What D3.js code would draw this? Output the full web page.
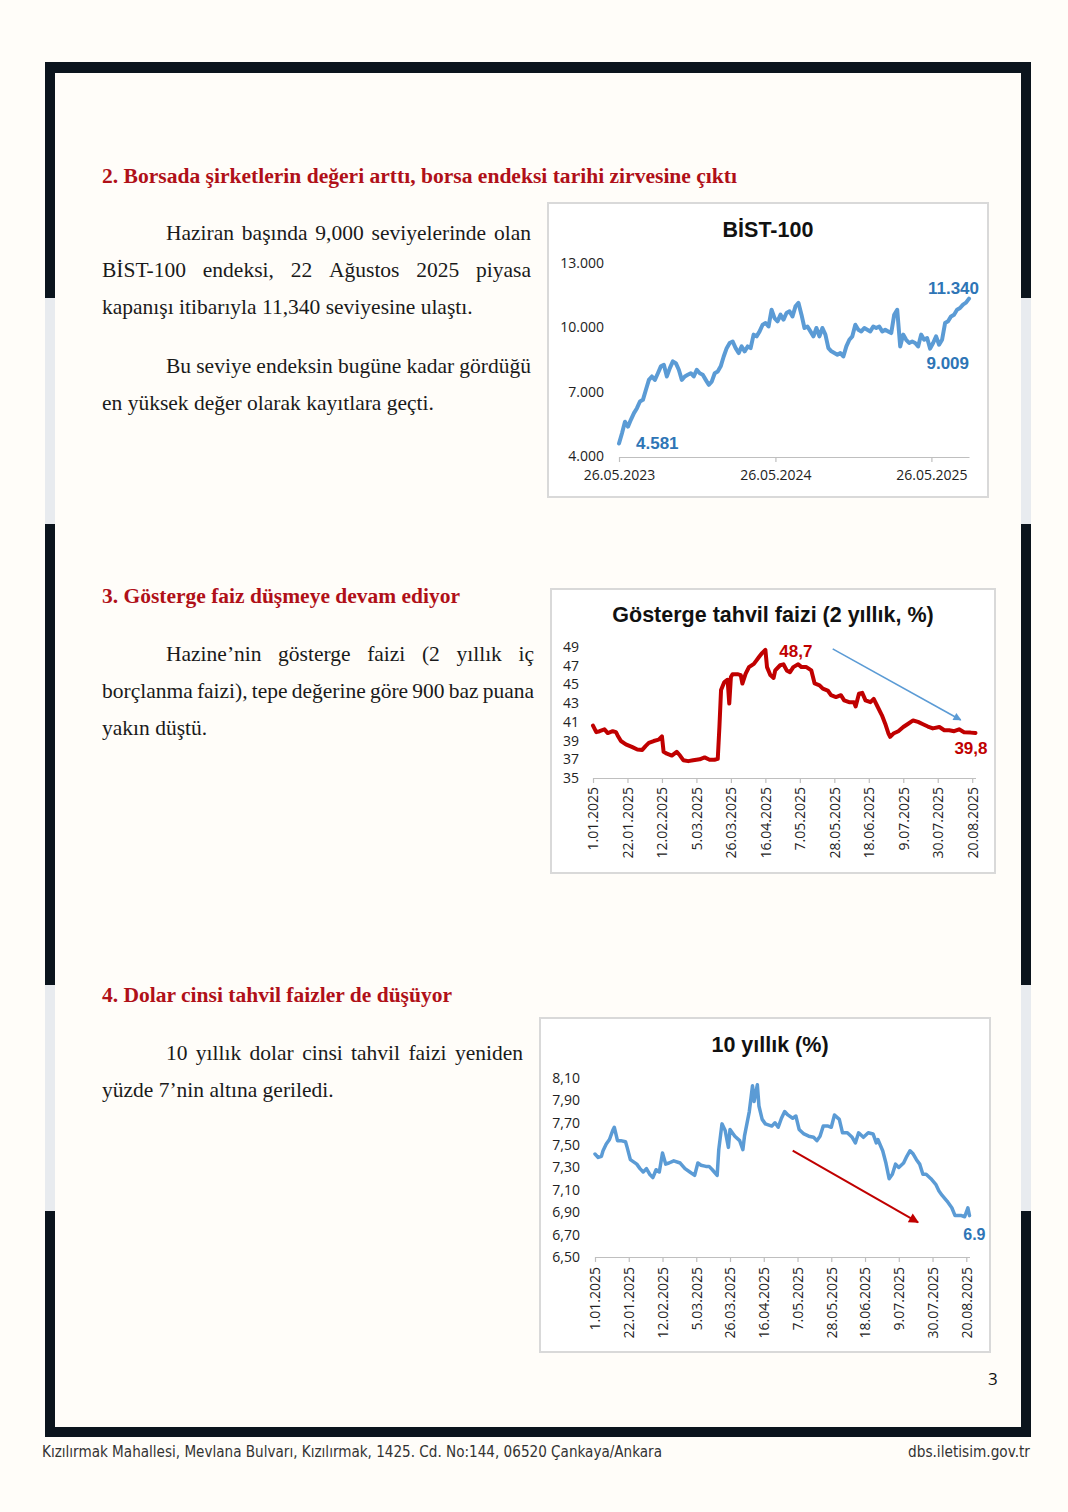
<!DOCTYPE html>
<html>
<head>
<meta charset="utf-8">
<script src="https://cdn.jsdelivr.net/npm/d3@7"></script>
<style>
html, body { margin: 0; padding: 0; background: #fffdf9; }
svg { display: block; }
</style>
</head>
<body>
<svg id="page" width="1068" height="1512"></svg>
<script>
/*global d3 */
// ---- data ----
// BIST-100, weekly closes starting 26.05.2023
var bistStart = "2023-05-26";
var bistValues = [4581, 5060, 5600, 5370, 5700, 6000, 6230, 6540, 6620, 7090,
    7550, 7710, 7550, 7860, 8180, 8250, 7710, 8100, 8410, 8330,
    8020, 7550, 7710, 7790, 7860, 7710, 8020, 7860, 7790, 7550,
    7320, 7470, 7860, 7940, 8180, 8640, 9030, 9270, 9340, 9030,
    8800, 9110, 8880, 9110, 9030, 9660, 9580, 9810, 10120, 10200,
    10040, 10820, 10430, 10280, 10590, 10360, 10670, 10750, 10510, 10980,
    11140, 10590, 9970, 10040, 9810, 9580, 9970, 9580, 9970, 9660,
    9030, 8880, 8800, 8720, 8800, 8640, 9110, 9420, 9580, 10120,
    9890, 9810, 9970, 9890, 9810, 10040, 9970, 10040, 9810, 9890,
    9810, 9730, 10590, 10820, 9110, 9660, 9420, 9270, 9340, 9270,
    9110, 9660, 9420, 9500, 9009, 9270, 9580, 9190, 9420, 10200,
    10280, 10510, 10590, 10820, 10900, 11060, 11150, 11340];
var bistXTicks = ["2023-05-26", "2024-05-26", "2025-05-26"];
var bistYTicks = [4000, 7000, 10000, 13000];

// 2-year benchmark yield (%), day offsets from 1.01.2025
var tahvilDays = [0, 2, 4, 7, 9, 12, 14, 15, 17, 20, 24, 27, 30, 32, 34, 37, 40, 42, 43, 45,
    48, 51, 53, 55, 58, 61, 65, 68, 71, 74, 76, 77, 78, 80, 82, 83, 84, 85, 88, 90,
    91, 93, 95, 98, 101, 103, 105, 106, 108, 110, 111, 114, 116, 118, 120, 122, 125, 127, 130, 133,
    135, 138, 140, 143, 145, 148, 151, 153, 156, 159, 160, 162, 164, 166, 169, 171, 173, 176, 178, 180,
    181, 183, 186, 189, 192, 195, 198, 201, 204, 207, 211, 214, 217, 220, 223, 226, 230, 233];
var tahvilValues = [40.6, 39.9, 40.0, 40.2, 39.8, 40.0, 39.9, 39.55, 38.95, 38.6, 38.3, 38.05, 38.0, 38.4, 38.75, 38.95, 39.1, 39.45, 37.8, 37.6,
    37.4, 37.8, 37.4, 36.9, 36.8, 36.9, 37.0, 37.2, 36.95, 36.95, 37.05, 40.45, 44.4, 45.25, 45.5, 42.95, 45.8, 46.1, 46.1, 46.0,
    45.1, 46.15, 46.85, 47.2, 47.9, 48.35, 48.7, 46.85, 46.0, 45.7, 46.5, 47.05, 47.15, 46.5, 46.3, 46.85, 47.15, 46.85, 46.85, 46.5,
    45.1, 44.9, 44.55, 44.35, 43.85, 43.65, 43.85, 43.3, 43.1, 43.1, 42.65, 44.0, 44.1, 43.3, 43.1, 43.45, 42.75, 41.7, 40.8, 39.75,
    39.4, 39.75, 40.0, 40.45, 40.8, 41.15, 41.0, 40.75, 40.5, 40.3, 40.45, 40.1, 40.1, 40.0, 40.2, 39.9, 39.85, 39.8];
var tahvilYTicks = [35, 37, 39, 41, 43, 45, 47, 49];

// 10-year dollar bond yield (%), day offsets from 1.01.2025
var dolarDays = [0, 2, 4, 5, 7, 9, 11, 12, 14, 16, 19, 20, 22, 26, 28, 30, 32, 34, 36, 38,
    40, 42, 44, 46, 49, 53, 56, 59, 62, 64, 66, 69, 71, 73, 76, 77, 79, 81, 83, 84,
    87, 90, 92, 93, 96, 98, 99, 101, 102, 104, 106, 110, 112, 114, 116, 118, 120, 123, 125, 127,
    130, 133, 136, 138, 140, 142, 145, 147, 149, 152, 154, 157, 160, 162, 164, 167, 170, 173, 175, 176,
    179, 181, 183, 185, 187, 189, 192, 194, 196, 198, 200, 202, 204, 206, 209, 212, 214, 216, 219, 222,
    224, 226, 228, 230, 232, 233];
var dolarValues = [7.42, 7.39, 7.40, 7.45, 7.51, 7.55, 7.63, 7.66, 7.54, 7.54, 7.53, 7.48, 7.37, 7.33, 7.29, 7.26, 7.29, 7.24, 7.21, 7.28,
    7.26, 7.43, 7.33, 7.34, 7.36, 7.34, 7.29, 7.26, 7.23, 7.34, 7.32, 7.31, 7.31, 7.28, 7.23, 7.46, 7.69, 7.63, 7.48, 7.64,
    7.58, 7.54, 7.46, 7.58, 7.80, 8.03, 7.89, 8.04, 7.85, 7.73, 7.69, 7.67, 7.70, 7.66, 7.74, 7.80, 7.77, 7.74, 7.76, 7.64,
    7.60, 7.58, 7.57, 7.54, 7.58, 7.67, 7.67, 7.66, 7.77, 7.73, 7.61, 7.61, 7.57, 7.52, 7.61, 7.57, 7.61, 7.60, 7.52, 7.55,
    7.45, 7.34, 7.20, 7.24, 7.33, 7.30, 7.34, 7.40, 7.45, 7.42, 7.37, 7.33, 7.24, 7.24, 7.20, 7.15, 7.09, 7.05, 7.00, 6.94,
    6.87, 6.87, 6.87, 6.86, 6.94, 6.87];
var dolarYTicks = [6.5, 6.7, 6.9, 7.1, 7.3, 7.5, 7.7, 7.9, 8.1];

var dateTicks2025 = ["2025-01-01", "2025-01-22", "2025-02-12", "2025-03-05", "2025-03-26", "2025-04-16",
    "2025-05-07", "2025-05-28", "2025-06-18", "2025-07-09", "2025-07-30", "2025-08-20"];

// ---- helpers ----
var parse = d3.utcParse("%Y-%m-%d"),
    fmtDate = d3.utcFormat("%-d.%m.%Y"),
    tr = d3.formatLocale({decimal: ",", thousands: ".", grouping: [3], currency: ["", " TL"]}),
    year0 = parse("2025-01-01");

var page = d3.select("#page");
var serif = "'Liberation Serif', 'Times New Roman', serif",
    sans = "'Liberation Sans', Arial, sans-serif",
    tickFont = "'Open Sans', 'Noto Sans', sans-serif";

function textLine(g, str, x0, x1, y, justify) {
    if (!justify) {
        g.append("text").attr("x", x0).attr("y", y).text(str);
        return;
    }
    var words = str.split(" "),
        nodes = words.map(function (w) { return g.append("text").attr("y", y).text(w); }),
        widths = nodes.map(function (n) { return n.node().getComputedTextLength(); }),
        gap = (x1 - x0 - d3.sum(widths)) / (words.length - 1),
        x = x0;
    nodes.forEach(function (n, i) { n.attr("x", x); x += widths[i] + gap; });
}

function arrowHead(id, color) {
    page.select("defs").append("marker")
        .attr("id", id)
        .attr("viewBox", "0 0 10 10")
        .attr("refX", 9).attr("refY", 5)
        .attr("markerWidth", 6).attr("markerHeight", 5)
        .attr("markerUnits", "strokeWidth")
        .attr("orient", "auto")
        .append("path").attr("d", "M0,0L10,5L0,10Z").attr("fill", color);
}

page.append("defs");
arrowHead("arrBlue", "#5b9bd5");
arrowHead("arrRed", "#c00000");

// ---- page frame ----
var frameColor = "#0b141d", gapColor = "#e8ebef";
page.append("rect").attr("x", 45).attr("y", 62).attr("width", 986).attr("height", 11).attr("fill", frameColor);
page.append("rect").attr("x", 45).attr("y", 1427).attr("width", 986).attr("height", 10).attr("fill", frameColor);
[45, 1021].forEach(function (x) {
    page.append("rect").attr("x", x).attr("y", 62).attr("width", 10).attr("height", 1375).attr("fill", frameColor);
    [[298, 524], [985, 1211]].forEach(function (s) {
        page.append("rect").attr("x", x).attr("y", s[0]).attr("width", 10).attr("height", s[1] - s[0]).attr("fill", gapColor);
    });
});

// ---- headings and body text ----
var headings = page.append("g")
    .style("font-family", serif).style("font-weight", "bold")
    .style("font-size", "20px").attr("fill", "#b01018");
headings.append("text").attr("x", 102).attr("y", 183)
    .attr("textLength", 635).attr("lengthAdjust", "spacingAndGlyphs")
    .text("2. Borsada şirketlerin değeri arttı, borsa endeksi tarihi zirvesine çıktı");
headings.append("text").attr("x", 102).attr("y", 603)
    .attr("textLength", 358).attr("lengthAdjust", "spacingAndGlyphs")
    .text("3. Gösterge faiz düşmeye devam ediyor");
headings.append("text").attr("x", 102).attr("y", 1002)
    .attr("textLength", 350).attr("lengthAdjust", "spacingAndGlyphs")
    .text("4. Dolar cinsi tahvil faizler de düşüyor");

var body = page.append("g")
    .style("font-family", serif).style("font-size", "21.5px").attr("fill", "#1a1a1a");
textLine(body, "Haziran başında 9,000 seviyelerinde olan", 166, 531, 240, true);
textLine(body, "BİST-100 endeksi, 22 Ağustos 2025 piyasa", 102, 531, 277, true);
textLine(body, "kapanışı itibarıyla 11,340 seviyesine ulaştı.", 102, 531, 314, false);
textLine(body, "Bu seviye endeksin bugüne kadar gördüğü", 166, 531, 373, true);
textLine(body, "en yüksek değer olarak kayıtlara geçti.", 102, 531, 410, false);
textLine(body, "Hazine’nin gösterge faizi (2 yıllık iç", 166, 534, 661, true);
textLine(body, "borçlanma faizi), tepe değerine göre 900 baz puana", 102, 534, 698, true);
textLine(body, "yakın düştü.", 102, 534, 735, false);
textLine(body, "10 yıllık dolar cinsi tahvil faizi yeniden", 166, 523, 1060, true);
textLine(body, "yüzde 7’nin altına geriledi.", 102, 523, 1097, false);

// ---- footer ----
page.append("text").attr("x", 988).attr("y", 1385)
    .style("font-family", tickFont).style("font-size", "17px").attr("fill", "#111").text("3");
page.append("text").attr("x", 42).attr("y", 1457)
    .style("font-family", "'Liberation Sans Narrow', 'DejaVu Sans Condensed', sans-serif")
    .style("font-size", "15px").attr("fill", "#333")
    .attr("textLength", 620).attr("lengthAdjust", "spacingAndGlyphs")
    .text("Kızılırmak Mahallesi, Mevlana Bulvarı, Kızılırmak, 1425. Cd. No:144, 06520 Çankaya/Ankara");
page.append("text").attr("x", 1030).attr("y", 1457).attr("text-anchor", "end")
    .style("font-family", "'Liberation Sans Narrow', 'DejaVu Sans Condensed', sans-serif")
    .style("font-size", "15px").attr("fill", "#333")
    .attr("textLength", 122).attr("lengthAdjust", "spacingAndGlyphs")
    .text("dbs.iletisim.gov.tr");

// ---- chart boxes ----
function chartBox(x, y, w, h, title, titleX, titleY) {
    page.append("rect").attr("x", x).attr("y", y).attr("width", w).attr("height", h)
        .attr("fill", "#fff").attr("stroke", "#d9d9d9").attr("stroke-width", 2);
    page.append("text").attr("x", titleX).attr("y", titleY).attr("text-anchor", "middle")
        .style("font-family", sans).style("font-weight", "bold").style("font-size", "21.5px")
        .attr("fill", "#111").text(title);
}

function styleAxis(g) {
    g.select(".domain").attr("stroke", "#bfbfbf").attr("stroke-width", 1.2);
    g.selectAll(".tick line").attr("stroke", "#bfbfbf").attr("stroke-width", 1.2);
    g.selectAll("text").style("font-family", tickFont).style("font-size", "14px").attr("fill", "#222");
}

function yLabels(g, y, ticks, xRight, fmt) {
    var ax = g.append("g").attr("transform", "translate(" + xRight + ",0)")
        .call(d3.axisLeft(y).tickValues(ticks).tickSize(0).tickPadding(0).tickFormat(fmt));
    ax.select(".domain").remove();
    ax.selectAll("text").style("font-family", tickFont).style("font-size", "14px").attr("fill", "#222");
}

// ---- Chart 1: BİST-100 ----
(function () {
    chartBox(548, 203, 440, 294, "BİST-100", 768, 237);
    var g = page.append("g"),
        t0 = parse(bistStart),
        data = bistValues.map(function (v, i) { return {date: d3.utcDay.offset(t0, i * 7), value: v}; }),
        x = d3.scaleUtc().domain([t0, parse("2025-08-22")]).range([619, 969]),
        y = d3.scaleLinear().domain([4000, 13000]).range([456, 263]);

    var xa = g.append("g").attr("transform", "translate(0,457)")
        .call(d3.axisBottom(x).tickValues(bistXTicks.map(parse)).tickSize(5).tickSizeOuter(0)
            .tickPadding(8).tickFormat(fmtDate));
    styleAxis(xa);

    yLabels(g, y, bistYTicks, 604, tr.format(",d"));

    g.append("path").datum(data)
        .attr("fill", "none").attr("stroke", "#5b9bd5").attr("stroke-width", 4)
        .attr("stroke-linejoin", "round").attr("stroke-linecap", "round")
        .attr("d", d3.line().x(function (d) { return x(d.date); }).y(function (d) { return y(d.value); }));

    var lab = g.append("g").style("font-family", sans).style("font-weight", "bold")
        .style("font-size", "17px").attr("fill", "#2e75b6");
    var first = data[0], last = data[data.length - 1],
        low = data.filter(function (d) { return d.value === 9009; })[0];
    lab.append("text").attr("x", x(first.date) + 17).attr("y", y(first.value) + 5).text(tr.format(",d")(first.value));
    lab.append("text").attr("x", x(last.date) + 10).attr("y", y(last.value) - 5)
        .attr("text-anchor", "end").text(tr.format(",d")(last.value));
    lab.append("text").attr("x", x(last.date)).attr("y", y(low.value) + 20)
        .attr("text-anchor", "end").text(tr.format(",d")(low.value));
}());

// ---- Chart 2: Gösterge tahvil faizi ----
(function () {
    chartBox(551, 589, 444, 284, "Gösterge tahvil faizi (2 yıllık, %)", 773, 622);
    var g = page.append("g"),
        data = tahvilDays.map(function (d, i) { return {date: d3.utcDay.offset(year0, d), value: tahvilValues[i]}; }),
        x = d3.scaleUtc().domain([year0, parse("2025-08-22")]).range([593, 975.5]),
        y = d3.scaleLinear().domain([35, 49]).range([778, 647]);

    var xa = g.append("g").attr("transform", "translate(0,778)")
        .call(d3.axisBottom(x).tickValues(dateTicks2025.map(parse)).tickSize(5).tickSizeOuter(0).tickFormat(fmtDate));
    styleAxis(xa);
    xa.selectAll("text").attr("transform", "rotate(-90)").attr("text-anchor", "end")
        .attr("x", -9).attr("y", 0).attr("dy", "0.35em");

    yLabels(g, y, tahvilYTicks, 579, d3.format("d"));

    g.append("path").datum(data)
        .attr("fill", "none").attr("stroke", "#c00000").attr("stroke-width", 4)
        .attr("stroke-linejoin", "round").attr("stroke-linecap", "round")
        .attr("d", d3.line().x(function (d) { return x(d.date); }).y(function (d) { return y(d.value); }));

    var peak = data[d3.maxIndex(data, function (d) { return d.value; })],
        last = data[data.length - 1],
        f1 = tr.format(".1f");
    var lab = g.append("g").style("font-family", sans).style("font-weight", "bold")
        .style("font-size", "17px").attr("fill", "#c00000");
    lab.append("text").attr("x", x(peak.date) + 14).attr("y", y(peak.value) + 7).text(f1(peak.value));
    lab.append("text").attr("x", x(last.date) + 12).attr("y", y(last.value) + 21)
        .attr("text-anchor", "end").text(f1(last.value));

    g.append("line")
        .attr("x1", x(parse("2025-05-27"))).attr("y1", y(48.8))
        .attr("x2", x(parse("2025-08-13"))).attr("y2", y(41.2))
        .attr("stroke", "#5b9bd5").attr("stroke-width", 1.6)
        .attr("marker-end", "url(#arrBlue)");
}());

// ---- Chart 3: 10 yıllık ----
(function () {
    chartBox(540, 1018, 450, 334, "10 yıllık (%)", 770, 1052);
    var g = page.append("g"),
        data = dolarDays.map(function (d, i) { return {date: d3.utcDay.offset(year0, d), value: dolarValues[i]}; }),
        x = d3.scaleUtc().domain([year0, parse("2025-08-22")]).range([595, 969.5]),
        y = d3.scaleLinear().domain([6.5, 8.1]).range([1257, 1078]);

    var xa = g.append("g").attr("transform", "translate(0,1257)")
        .call(d3.axisBottom(x).tickValues(dateTicks2025.map(parse)).tickSize(5).tickSizeOuter(0).tickFormat(fmtDate));
    styleAxis(xa);
    xa.selectAll("text").attr("transform", "rotate(-90)").attr("text-anchor", "end")
        .attr("x", -10).attr("y", 0).attr("dy", "0.35em");

    yLabels(g, y, dolarYTicks, 580, tr.format(".2f"));

    g.append("path").datum(data)
        .attr("fill", "none").attr("stroke", "#5b9bd5").attr("stroke-width", 3.5)
        .attr("stroke-linejoin", "round").attr("stroke-linecap", "round")
        .attr("d", d3.line().x(function (d) { return x(d.date); }).y(function (d) { return y(d.value); }));

    var last = data[data.length - 1];
    g.append("text").attr("x", x(last.date) + 16).attr("y", y(last.value) + 24)
        .attr("text-anchor", "end")
        .style("font-family", sans).style("font-weight", "bold").style("font-size", "16px")
        .attr("fill", "#2e75b6").text(d3.format(".1f")(last.value));

    g.append("line")
        .attr("x1", x(parse("2025-05-04"))).attr("y1", y(7.45))
        .attr("x2", x(parse("2025-07-21"))).attr("y2", y(6.81))
        .attr("stroke", "#c00000").attr("stroke-width", 2)
        .attr("marker-end", "url(#arrRed)");
}());
</script>
</body>
</html>
